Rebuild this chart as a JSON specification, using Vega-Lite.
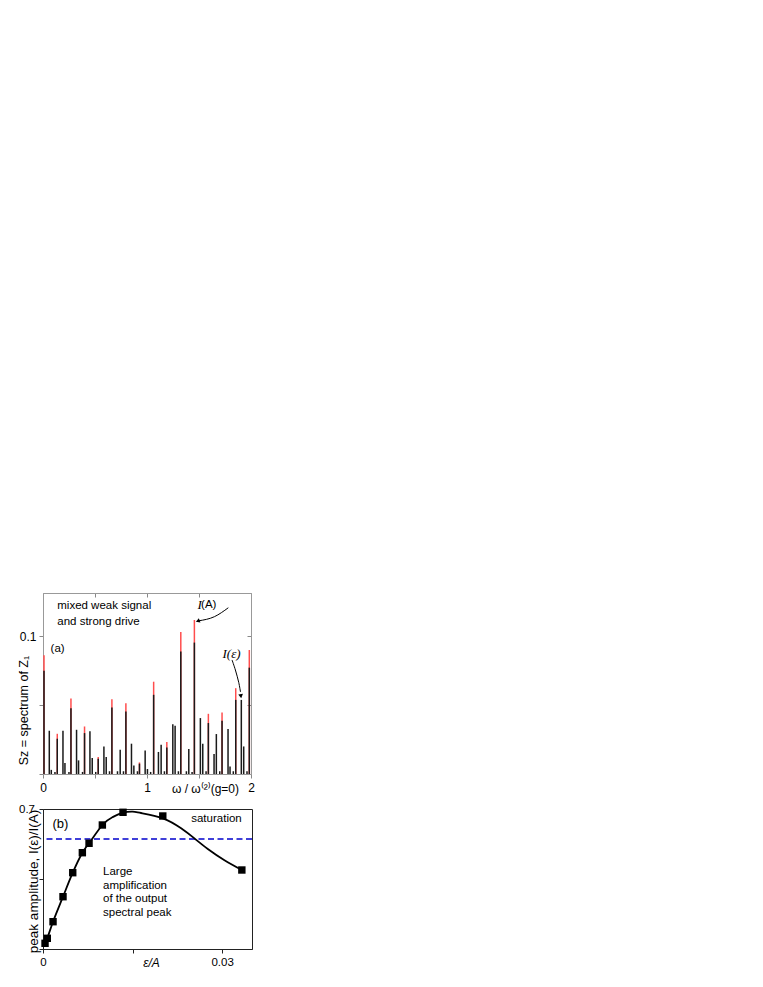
{
  "$schema": "https://vega.github.io/schema/vega-lite/v6.json",
  "padding": {"left": 16, "top": 592, "right": 5, "bottom": 5},
  "bounds": "flush",
  "spacing": 35,
  "config": {
    "font": "Liberation Sans",
    "axis": {"labelFont": "Liberation Sans", "titleFont": "Liberation Sans", "labelColor": "#000", "titleColor": "#000", "grid": false, "titleFontWeight": "normal", "labelFlush": false, "labelOverlap": false}
  },
  "datasets": {
    "spectrum": [
      {"w":0.0096,"b":0.0749,"r":0.0862},{"w":0.0605,"b":0.0314},{"w":0.0797,"b":0.003},{"w":0.115,"b":0.0015},
      {"w":0.1373,"b":0.0256,"r":0.0292},{"w":0.192,"b":0.0314},{"w":0.211,"b":0.008},{"w":0.2496,"b":0.0015},
      {"w":0.2688,"b":0.0478,"r":0.0548},{"w":0.3226,"b":0.0321},{"w":0.3418,"b":0.0099},{"w":0.3802,"b":0.0015},
      {"w":0.3994,"b":0.0297,"r":0.0345},{"w":0.4513,"b":0.031},{"w":0.4734,"b":0.0116},{"w":0.507,"b":0.0015},
      {"w":0.531,"b":0.0111,"r":0.0123},{"w":0.5857,"b":0.02},{"w":0.6078,"b":0.0123},{"w":0.6395,"b":0.002},
      {"w":0.6625,"b":0.0483,"r":0.0543},{"w":0.7163,"b":0.002},{"w":0.7422,"b":0.0176},{"w":0.7739,"b":0.002},
      {"w":0.797,"b":0.0454,"r":0.0514},{"w":0.8507,"b":0.022},{"w":0.8737,"b":0.0062},{"w":0.9083,"b":0.002},
      {"w":0.9275,"b":0.0075,"r":0.0084},{"w":0.9822,"b":0.0171},{"w":1.0043,"b":0.0036},{"w":1.035,"b":0.0015},
      {"w":1.0639,"b":0.0575,"r":0.067},{"w":1.11,"b":0.016},{"w":1.1359,"b":0.0212},{"w":1.1675,"b":0.002},
      {"w":1.1906,"b":0.0193,"r":0.0232},{"w":1.2482,"b":0.0362},{"w":1.2703,"b":0.035},{"w":1.302,"b":0.002},
      {"w":1.325,"b":0.0889,"r":0.103},{"w":1.3788,"b":0.002},{"w":1.4018,"b":0.0181},{"w":1.4335,"b":0.0015},
      {"w":1.4556,"b":0.0954,"r":0.1118},{"w":1.5132,"b":0.0406},{"w":1.5362,"b":0.022},{"w":1.568,"b":0.002},
      {"w":1.59,"b":0.037,"r":0.0437},{"w":1.6448,"b":0.0145},{"w":1.6668,"b":0.029},{"w":1.6995,"b":0.002},
      {"w":1.7216,"b":0.0386,"r":0.0446},{"w":1.7792,"b":0.0326},{"w":1.7984,"b":0.0055},{"w":1.83,"b":0.002},
      {"w":1.8531,"b":0.0538,"r":0.0623},{"w":1.9069,"b":0.0538},{"w":1.9299,"b":0.02},{"w":1.9616,"b":0.002},
      {"w":1.9837,"b":0.0772,"r":0.09}
    ],
    "labelsA": [
      {"x":0.137,"y":0.122,"t":"mixed weak signal"},
      {"x":0.137,"y":0.1106,"t":"and strong drive"},
      {"x":0.073,"y":0.0906,"t":"(a)"},
      {"x":1.52,"y":0.1227,"t":"(A)"}
    ],
    "serifA": [
      {"x":1.507,"y":0.1227,"t":"I"},
      {"x":1.813,"y":0.087,"t":"I(ε)"}
    ],
    "arrowA": [
      {"x":1.782,"y":0.1207,"o":0},{"x":1.648,"y":0.1142,"o":1},{"x":1.495,"y":0.1112,"o":2}
    ],
    "arrowE": [
      {"x":1.8176,"y":0.0828,"o":0},{"x":1.85,"y":0.0755,"o":1},{"x":1.882,"y":0.0665,"o":2},{"x":1.899,"y":0.0595,"o":3}
    ],
    "headA": [{"x":1.488,"y":0.111}],
    "headE": [{"x":1.903,"y":0.0565}],
    "points": [
      {"e":0.00034,"p":0.0285},{"e":0.00072,"p":0.0535},{"e":0.00168,"p":0.1365},{"e":0.00335,"p":0.2615},
      {"e":0.00498,"p":0.3815},{"e":0.00659,"p":0.4815},{"e":0.00771,"p":0.5285},{"e":0.00994,"p":0.62},
      {"e":0.0134,"p":0.6835},{"e":0.02006,"p":0.665},{"e":0.0333,"p":0.395}
    ],
    "curve": [
      {"e":0.00017,"p":0.013},{"e":0.00034,"p":0.03},{"e":0.00072,"p":0.0535},{"e":0.00168,"p":0.1365},
      {"e":0.00335,"p":0.2615},{"e":0.00498,"p":0.3815},{"e":0.00659,"p":0.4815},{"e":0.00771,"p":0.5285},
      {"e":0.00994,"p":0.62},{"e":0.0116,"p":0.6585},{"e":0.0134,"p":0.6815},{"e":0.01503,"p":0.687},
      {"e":0.01642,"p":0.68},{"e":0.02006,"p":0.6535},{"e":0.02313,"p":0.6035},{"e":0.02536,"p":0.553},
      {"e":0.0276,"p":0.5},{"e":0.03039,"p":0.444},{"e":0.0333,"p":0.395}
    ],
    "threshold": [{"level":0.55}],
    "labelsBc": [
      {"x":0.0029,"y":0.625,"t":"(b)","fs":13},
      {"x":0.02905,"y":0.65,"t":"saturation","fs":11.5}
    ],
    "labelsBl": [
      {"x":0.01006,"y":0.385,"t":"Large"},
      {"x":0.01006,"y":0.3175,"t":"amplification"},
      {"x":0.01006,"y":0.25,"t":"of the output"},
      {"x":0.01006,"y":0.1825,"t":"spectral peak"}
    ]
  },
  "vconcat": [
    {
      "width": 208,
      "height": 181,
      "view": {"stroke": "#999", "strokeWidth": 1},
      "resolve": {"axis": {"x": "independent", "y": "independent"}},
      "layer": [
        {
          "data": {"name": "spectrum"},
          "mark": {"type": "rule", "color": "#ff4d4d", "strokeWidth": 1.5},
          "encoding": {
            "x": {"field": "w", "type": "quantitative", "scale": {"domain": [0, 2], "nice": false, "zero": false},
                  "axis": {"orient": "bottom", "values": [0, 0.5, 1, 1.5, 2],
                           "labelExpr": "datum.value == 0 ? '0' : datum.value == 1 ? '1' : datum.value == 2 ? '2' : ''",
                           "tickSize": 4, "tickColor": "#888", "domainColor": "#999", "labelPadding": 4, "labelFontSize": 12,
                           "title": "ω / ω⁽²⁾(g=0)", "titleFontSize": 12, "titleX": 162, "titleY": 14, "titleBaseline": "middle", "titleAlign": "center"}},
            "y": {"field": "r", "type": "quantitative", "scale": {"domain": [0, 0.1314], "nice": false},
                  "axis": {"orient": "left", "values": [0, 0.05, 0.1],
                           "labelExpr": "datum.value == 0.1 ? '0.1' : ''",
                           "tickSize": 4, "tickColor": "#888", "domainColor": "#999", "labelPadding": 3, "labelFontSize": 12,
                           "title": "Sz = spectrum of Z₁", "titleFontSize": 12.5, "titleX": -20, "titleY": 117, "titleBaseline": "middle", "titleAlign": "center"}},
            "y2": {"datum": 0}
          }
        },
        {
          "data": {"name": "spectrum"},
          "mark": {"type": "rule", "color": "#1a1a1a", "strokeWidth": 1.5},
          "encoding": {
            "x": {"field": "w", "type": "quantitative", "scale": {"domain": [0, 2], "nice": false, "zero": false},
                  "axis": {"orient": "top", "values": [0.5, 1, 1.5], "labels": false, "title": null, "tickSize": -4, "tickColor": "#888", "domainColor": "#999"}},
            "y": {"field": "b", "type": "quantitative", "scale": {"domain": [0, 0.1314], "nice": false},
                  "axis": {"orient": "right", "values": [0.05, 0.1], "labels": false, "title": null, "tickSize": -4, "tickColor": "#888", "domainColor": "#999"}},
            "y2": {"datum": 0}
          }
        },
        {
          "data": {"name": "labelsA"},
          "mark": {"type": "text", "font": "Liberation Sans", "fontSize": 11.5, "align": "left", "baseline": "middle", "color": "#000"},
          "encoding": {
            "x": {"field": "x", "type": "quantitative", "scale": {"domain": [0, 2], "nice": false, "zero": false}, "axis": null},
            "y": {"field": "y", "type": "quantitative", "scale": {"domain": [0, 0.1314], "nice": false}, "axis": null},
            "text": {"field": "t"}
          }
        },
        {
          "data": {"name": "serifA"},
          "mark": {"type": "text", "font": "Liberation Serif", "fontStyle": "italic", "fontSize": 13, "align": "center", "baseline": "middle", "color": "#000"},
          "encoding": {
            "x": {"field": "x", "type": "quantitative", "scale": {"domain": [0, 2], "nice": false, "zero": false}, "axis": null},
            "y": {"field": "y", "type": "quantitative", "scale": {"domain": [0, 0.1314], "nice": false}, "axis": null},
            "text": {"field": "t"}
          }
        },
        {
          "data": {"name": "arrowA"},
          "mark": {"type": "line", "color": "#000", "strokeWidth": 1, "interpolate": "monotone"},
          "encoding": {
            "x": {"field": "x", "type": "quantitative", "scale": {"domain": [0, 2], "nice": false, "zero": false}, "axis": null},
            "y": {"field": "y", "type": "quantitative", "scale": {"domain": [0, 0.1314], "nice": false}, "axis": null},
            "order": {"field": "o"}
          }
        },
        {
          "data": {"name": "arrowE"},
          "mark": {"type": "line", "color": "#000", "strokeWidth": 1, "interpolate": "cardinal"},
          "encoding": {
            "x": {"field": "x", "type": "quantitative", "scale": {"domain": [0, 2], "nice": false, "zero": false}, "axis": null},
            "y": {"field": "y", "type": "quantitative", "scale": {"domain": [0, 0.1314], "nice": false}, "axis": null},
            "order": {"field": "o"}
          }
        },
        {
          "data": {"name": "headA"},
          "mark": {"type": "point", "shape": "triangle-left", "filled": true, "color": "#000", "size": 22, "angle": 340, "opacity": 1},
          "encoding": {
            "x": {"field": "x", "type": "quantitative", "scale": {"domain": [0, 2], "nice": false, "zero": false}, "axis": null},
            "y": {"field": "y", "type": "quantitative", "scale": {"domain": [0, 0.1314], "nice": false}, "axis": null}
          }
        },
        {
          "data": {"name": "headE"},
          "mark": {"type": "point", "shape": "triangle-down", "filled": true, "color": "#000", "size": 22, "angle": 352, "opacity": 1},
          "encoding": {
            "x": {"field": "x", "type": "quantitative", "scale": {"domain": [0, 2], "nice": false, "zero": false}, "axis": null},
            "y": {"field": "y", "type": "quantitative", "scale": {"domain": [0, 0.1314], "nice": false}, "axis": null}
          }
        }
      ]
    },
    {
      "width": 209,
      "height": 140,
      "view": {"stroke": "#222", "strokeWidth": 1},
      "layer": [
        {
          "data": {"name": "threshold"},
          "mark": {"type": "rule", "color": "#0000cc", "strokeWidth": 1.3, "strokeDash": [6, 3.5]},
          "encoding": {
            "y": {"field": "level", "type": "quantitative", "scale": {"domain": [0, 0.7], "nice": false},
                  "axis": {"orient": "left", "values": [0, 0.35, 0.7],
                           "labelExpr": "datum.value == 0.7 ? '0.7' : ''",
                           "tickSize": 4, "tickColor": "#222", "domainColor": "#222", "labelPadding": 4.5, "labelFontSize": 11.5,
                           "title": "peak amplitude, I(ε)/I(A)", "titleFontSize": 13.5, "titleX": -10, "titleY": 72, "titleBaseline": "middle", "titleAlign": "center"}}
          }
        },
        {
          "data": {"name": "curve"},
          "mark": {"type": "line", "color": "#000", "strokeWidth": 1.8, "interpolate": "natural"},
          "encoding": {
            "x": {"field": "e", "type": "quantitative", "scale": {"domain": [0, 0.035], "nice": false, "zero": false},
                  "axis": {"orient": "bottom", "values": [0, 0.015, 0.03],
                           "labelExpr": "datum.value == 0 ? '0' : datum.value == 0.03 ? '0.03' : ''",
                           "tickSize": 4, "tickColor": "#222", "domainColor": "#222", "labelPadding": 3, "labelFontSize": 11.5,
                           "title": "ε/A", "titleFontStyle": "italic", "titleFontSize": 12, "titleX": 108, "titleY": 13, "titleBaseline": "middle", "titleAlign": "center"}},
            "y": {"field": "p", "type": "quantitative", "scale": {"domain": [0, 0.7], "nice": false}},
            "order": {"field": "e"}
          }
        },
        {
          "data": {"name": "points"},
          "mark": {"type": "point", "shape": "square", "filled": true, "color": "#000", "size": 55, "opacity": 1},
          "encoding": {
            "x": {"field": "e", "type": "quantitative", "scale": {"domain": [0, 0.035], "nice": false, "zero": false}},
            "y": {"field": "p", "type": "quantitative", "scale": {"domain": [0, 0.7], "nice": false}}
          }
        },
        {
          "data": {"name": "labelsBc"},
          "mark": {"type": "text", "font": "Liberation Sans", "align": "center", "baseline": "middle", "color": "#000"},
          "encoding": {
            "x": {"field": "x", "type": "quantitative", "scale": {"domain": [0, 0.035], "nice": false, "zero": false}},
            "y": {"field": "y", "type": "quantitative", "scale": {"domain": [0, 0.7], "nice": false}},
            "text": {"field": "t"},
            "size": {"field": "fs", "type": "quantitative", "scale": null}
          }
        },
        {
          "data": {"name": "labelsBl"},
          "mark": {"type": "text", "font": "Liberation Sans", "fontSize": 11.5, "align": "left", "baseline": "middle", "color": "#000"},
          "encoding": {
            "x": {"field": "x", "type": "quantitative", "scale": {"domain": [0, 0.035], "nice": false, "zero": false}},
            "y": {"field": "y", "type": "quantitative", "scale": {"domain": [0, 0.7], "nice": false}},
            "text": {"field": "t"}
          }
        }
      ]
    }
  ]
}
